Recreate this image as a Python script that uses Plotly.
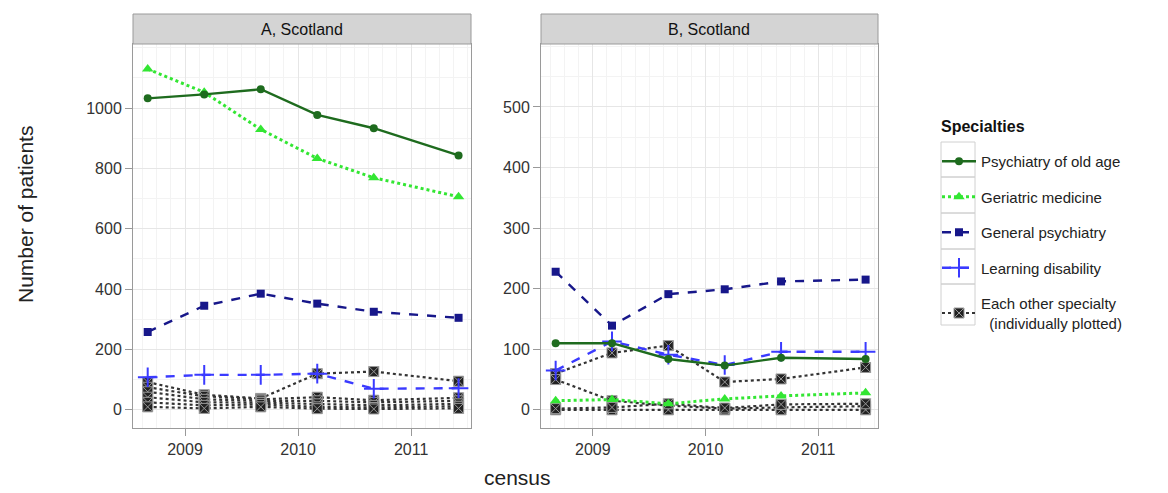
import plotly.graph_objects as go

# ---- data ----
census_dates = [2008.67, 2009.17, 2009.67, 2010.17, 2010.67, 2011.42]

# Panel A, Scotland
a_old_age = [1032, 1045, 1062, 977, 933, 843]
a_geriatric = [1129, 1052, 929, 833, 769, 706]
a_general = [258, 345, 385, 352, 325, 305]
a_learning = [108, 116, 116, 120, 70, 72]
a_others = [
    [92, 50, 38, 120, 127, 95],
    [75, 45, 35, 42, 32, 40],
    [60, 35, 30, 30, 25, 30],
    [42, 25, 24, 20, 15, 20],
    [25, 15, 18, 10, 8, 12],
    [10, 5, 10, 4, 3, 5],
]

# Panel B, Scotland
b_old_age = [110, 110, 84, 73, 86, 84]
b_geriatric = [15, 17, 10, 18, 23, 28]
b_general = [228, 139, 191, 199, 212, 215]
b_learning = [65, 113, 91, 74, 96, 96]
b_others = [
    [60, 94, 106, 46, 51, 70],
    [50, 15, 7, 2, 4, 6],
    [0, 0, 0, 0, 0, 0],
    [2, 4, 10, 3, 9, 10],
]

year_ticks = [2009, 2010, 2011]
a_yticks = [0, 200, 400, 600, 800, 1000]
b_yticks = [0, 100, 200, 300, 400, 500]

legend_names = ["Psychiatry of old age", "Geriatric medicine", "General psychiatry",
                "Learning disability", "Each other specialty<br>  (individually plotted)"]

# ---- styles ----
C_OLD = "#1e6b1e"
C_GER = "#33e633"
C_GEN = "#17178a"
C_LD = "#3a3aff"
C_OTH = "#222222"

fig = go.Figure()


def add_panel(xa, ya, old, ger, gen, ld, others, show):
    for i, o in enumerate(others):
        fig.add_trace(go.Scatter(
            x=census_dates, y=o, xaxis=xa, yaxis=ya, mode="lines+markers",
            line=dict(color="#333333", width=2.2, dash="dot"),
            marker=dict(symbol="square-x", size=10, color=C_OTH,
                        line=dict(color="#9a9a9a", width=1)),
            name=legend_names[4], legendgroup="g5", legendrank=5,
            showlegend=(show and i == 0)))
    fig.add_trace(go.Scatter(
        x=census_dates, y=ld, xaxis=xa, yaxis=ya, mode="lines+markers",
        line=dict(color=C_LD, width=2.4, dash="dash"),
        marker=dict(symbol="cross-thin", size=14, color=C_LD,
                    line=dict(color=C_LD, width=2)),
        name=legend_names[3], legendgroup="g4", legendrank=4, showlegend=show))
    fig.add_trace(go.Scatter(
        x=census_dates, y=gen, xaxis=xa, yaxis=ya, mode="lines+markers",
        line=dict(color=C_GEN, width=2.4, dash="dash"),
        marker=dict(symbol="square", size=8, color=C_GEN),
        name=legend_names[2], legendgroup="g3", legendrank=3, showlegend=show))
    fig.add_trace(go.Scatter(
        x=census_dates, y=ger, xaxis=xa, yaxis=ya, mode="lines+markers",
        line=dict(color=C_GER, width=3, dash="dot"),
        marker=dict(symbol="triangle-up", size=10, color=C_GER),
        name=legend_names[1], legendgroup="g2", legendrank=2, showlegend=show))
    fig.add_trace(go.Scatter(
        x=census_dates, y=old, xaxis=xa, yaxis=ya, mode="lines+markers",
        line=dict(color=C_OLD, width=2.4),
        marker=dict(symbol="circle", size=8, color=C_OLD),
        name=legend_names[0], legendgroup="g1", legendrank=1, showlegend=show))


add_panel("x", "y", a_old_age, a_geriatric, a_general, a_learning, a_others, True)
add_panel("x2", "y2", b_old_age, b_geriatric, b_general, b_learning, b_others, False)

W, H = 1168, 493
ax_dom = [133 / W, 471 / W]
bx_dom = [541 / W, 878 / W]
y_dom = [1 - 428 / H, 1 - 44 / H]
strip_top = 1 - 14 / H

common_x = dict(
    range=[2008.54, 2011.53], tickvals=year_ticks, ticktext=[str(t) for t in year_ticks],
    showgrid=True, gridcolor="#e6e6e6", gridwidth=1,
    minor=dict(dtick=1 / 8, tick0=2009, showgrid=True, gridcolor="#f3f3f3", gridwidth=1),
    ticks="outside", ticklen=7, tickcolor="#999999",
    tickfont=dict(family="Liberation Sans, Arial", size=16, color="#333333"),
    showline=True, linecolor="#9a9a9a", linewidth=1, mirror=True, zeroline=False,
)
common_y = dict(
    showgrid=True, gridcolor="#e6e6e6", gridwidth=1,
    ticks="outside", ticklen=7, tickcolor="#999999",
    tickfont=dict(family="Liberation Sans, Arial", size=16, color="#333333"),
    showline=True, linecolor="#9a9a9a", linewidth=1, mirror=True, zeroline=False,
)

fig.update_layout(
    width=W, height=H, margin=dict(l=0, r=0, t=0, b=0),
    paper_bgcolor="white", plot_bgcolor="white",
    font=dict(family="Liberation Sans, Arial", color="#222222"),
    xaxis=dict(domain=ax_dom, anchor="y", **common_x),
    xaxis2=dict(domain=bx_dom, anchor="y2", **common_x),
    yaxis=dict(domain=y_dom, anchor="x", range=[-60, 1212], tickvals=a_yticks,
               minor=dict(dtick=100, showgrid=True, gridcolor="#f3f3f3"), **common_y),
    yaxis2=dict(domain=y_dom, anchor="x2", range=[-30, 604], tickvals=b_yticks,
                minor=dict(dtick=50, showgrid=True, gridcolor="#f3f3f3"), **common_y),
    legend=dict(
        x=937 / W, xanchor="left", y=1 - 145 / H, yanchor="top",
        font=dict(size=15, color="#222222"),
        traceorder="grouped", tracegroupgap=13, itemwidth=34,
        bgcolor="rgba(0,0,0,0)",
    ),
    showlegend=True,
)

# legend title
fig.add_annotation(xref="paper", yref="paper", x=939 / W, y=1 - 126 / H,
                   text="<b>Specialties</b>", showarrow=False,
                   font=dict(size=16, color="#111111"), xanchor="left", yanchor="middle")

# strips
for dom, label in [(ax_dom, "A, Scotland"), (bx_dom, "B, Scotland")]:
    fig.add_shape(type="rect", xref="paper", yref="paper",
                  x0=dom[0], x1=dom[1], y0=y_dom[1], y1=strip_top,
                  fillcolor="#d4d4d4", line=dict(color="#9a9a9a", width=1))
    fig.add_annotation(xref="paper", yref="paper", x=(dom[0] + dom[1]) / 2,
                       y=(y_dom[1] + strip_top) / 2, text=label, showarrow=False,
                       font=dict(size=16, color="#111111"), xanchor="center", yanchor="middle")

# legend key boxes
key_edges = [142, 177, 213, 249, 284, 325]
for top, bot in zip(key_edges[:-1], key_edges[1:]):
    fig.add_shape(type="rect", xref="paper", yref="paper",
                  x0=941 / W, x1=975 / W, y0=1 - bot / H, y1=1 - top / H,
                  fillcolor="rgba(0,0,0,0)", line=dict(color="#d0d0d0", width=1))

# axis titles
fig.add_annotation(xref="paper", yref="paper", x=25 / W, y=1 - 215 / H,
                   text="Number of patients", textangle=-90, showarrow=False,
                   font=dict(size=21, color="#222222"), xanchor="center", yanchor="middle")
fig.add_annotation(xref="paper", yref="paper", x=517 / W, y=1 - 477 / H,
                   text="census", showarrow=False,
                   font=dict(size=21, color="#222222"), xanchor="center", yanchor="middle")

fig.write_html("out.html", config={"displayModeBar": False},
               post_script="document.body.style.margin='0';document.body.style.overflow='hidden';")
